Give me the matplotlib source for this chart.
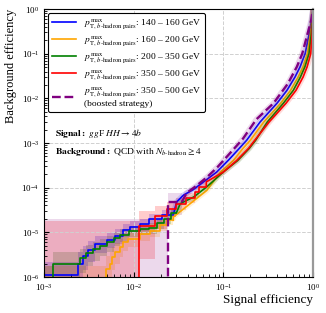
import matplotlib
matplotlib.use("Agg")
import matplotlib.pyplot as plt

plt.rcParams['font.family'] = ['Liberation Serif', 'DejaVu Serif']
plt.rcParams['mathtext.fontset'] = 'stix'

# --- data (signal eff, background eff) ---
# low-statistics part: step curves, band = per-step lower/upper bound
blue_step_x = [1.0e-3, 2.42e-3, 2.75e-3, 3.12e-3, 3.72e-3, 5.0e-3, 6.2e-3, 7.7e-3, 9.1e-3, 1.17e-2, 1.5e-2, 2.06e-2]
blue_step_y = [1.1e-6, 2.0e-6, 3.0e-6, 4.1e-6, 5.6e-6, 6.9e-6, 8.5e-6, 1.15e-5, 1.32e-5, 1.5e-5, 2.0e-5, 2.5e-5]
blue_band_lo = [1e-8, 8e-7, 1.4e-6, 2.2e-6, 3.4e-6, 4.4e-6, 5.6e-6, 8.0e-6, 9.5e-6, 1.1e-5, 1.5e-5, 1.9e-5]
blue_band_hi = [2.2e-6, 3.6e-6, 5.0e-6, 6.5e-6, 8.3e-6, 9.8e-6, 1.2e-5, 1.55e-5, 1.75e-5, 2.0e-5, 2.6e-5, 3.2e-5]
blue_x = [0.0277, 0.0302, 0.0359, 0.0464, 0.0603, 0.0845, 0.115, 0.151, 0.182, 0.257, 0.398, 0.513, 0.631, 0.72, 0.818, 0.908, 0.966, 1.0]
blue_y = [2.5e-5, 4.8e-5, 6.8e-5, 9.1e-5, 1.35e-4, 2.24e-4, 4.2e-4, 7.6e-4, 1.15e-3, 2.95e-3, 7.8e-3, 1.51e-2, 3.0e-2, 5.1e-2, 0.1, 0.282, 0.562, 1.0]

orange_step_x = [1e-3, 4.9e-3, 5.46e-3, 5.69e-3, 6.17e-3, 7.05e-3, 7.67e-3, 8.7e-3, 1.17e-2, 1.52e-2, 1.97e-2, 2.34e-2]
orange_step_y = [1e-7, 1.55e-6, 2.0e-6, 2.8e-6, 3.6e-6, 4.7e-6, 6.0e-6, 7.2e-6, 9.3e-6, 1.1e-5, 1.45e-5, 1.86e-5]
orange_band_lo = [1e-8, 4e-7, 8e-7, 1.4e-6, 2e-6, 2.8e-6, 3.8e-6, 4.8e-6, 6.5e-6, 8e-6, 1.1e-5, 1.45e-5]
orange_band_hi = [1.8e-6, 3e-6, 3.6e-6, 4.8e-6, 5.8e-6, 7.2e-6, 8.8e-6, 1.02e-5, 1.28e-5, 1.5e-5, 1.9e-5, 2.35e-5]
orange_x = [0.0277, 0.0277, 0.0427, 0.0655, 0.0933, 0.129, 0.166, 0.2, 0.282, 0.437, 0.562, 0.684, 0.776, 0.867, 0.938, 0.979, 1.0]
orange_y = [1.86e-5, 2.2e-5, 4.4e-5, 8.7e-5, 2.24e-4, 4.07e-4, 7.6e-4, 1.15e-3, 2.95e-3, 7.8e-3, 1.51e-2, 3.0e-2, 5.1e-2, 0.1, 0.282, 0.562, 1.0]

green_step_x = [1e-3, 1.27e-3, 2.51e-3, 2.95e-3, 3.55e-3, 4.17e-3, 5.0e-3, 6.0e-3, 7.1e-3, 8.9e-3, 1.17e-2, 1.5e-2, 1.82e-2, 2.19e-2, 2.63e-2]
green_step_y = [1e-7, 2.0e-6, 2.6e-6, 3.5e-6, 4.2e-6, 5.0e-6, 6.0e-6, 7.4e-6, 8.9e-6, 1.07e-5, 1.2e-5, 1.26e-5, 1.58e-5, 2.0e-5, 2.75e-5]
green_band_lo = [1e-8, 8e-7, 1.2e-6, 1.8e-6, 2.3e-6, 2.9e-6, 3.7e-6, 4.9e-6, 6.2e-6, 7.8e-6, 8.8e-6, 9.3e-6, 1.2e-5, 1.55e-5, 2.2e-5]
green_band_hi = [1.8e-6, 3.6e-6, 4.3e-6, 5.3e-6, 6.2e-6, 7.1e-6, 8.3e-6, 1.0e-5, 1.2e-5, 1.42e-5, 1.57e-5, 1.65e-5, 2.0e-5, 2.5e-5, 3.3e-5]
green_x = [0.030, 0.0331, 0.0468, 0.0655, 0.1, 0.145, 0.195, 0.229, 0.309, 0.468, 0.603, 0.724, 0.813, 0.902, 0.959, 0.986, 1.0]
green_y = [2.75e-5, 4.4e-5, 6.2e-5, 1.05e-4, 2.24e-4, 4.07e-4, 7.6e-4, 1.15e-3, 2.95e-3, 7.8e-3, 1.51e-2, 3.0e-2, 5.1e-2, 0.1, 0.282, 0.562, 1.0]

red_step_x = [1e-3, 0.0115, 0.0172, 0.0235, 0.0295, 0.0380, 0.0480, 0.0540]
red_step_y = [1e-7, 1.41e-5, 2.3e-5, 3.4e-5, 4.4e-5, 6.0e-5, 7.9e-5, 1.05e-4]
red_band_lo = [1e-8, 2.5e-6, 1.2e-5, 2.2e-5, 3.1e-5, 4.5e-5, 6.2e-5, 8.5e-5]
red_band_hi = [1.75e-5, 3.0e-5, 3.8e-5, 4.9e-5, 5.9e-5, 7.6e-5, 9.7e-5, 1.28e-4]
red_x = [0.0646, 0.0646, 0.1, 0.141, 0.191, 0.224, 0.324, 0.501, 0.646, 0.776, 0.861, 0.944, 0.982, 0.993, 1.0]
red_y = [1.05e-4, 1.35e-4, 2.24e-4, 4.07e-4, 7.6e-4, 1.15e-3, 2.95e-3, 7.8e-3, 1.51e-2, 3.0e-2, 5.1e-2, 0.1, 0.282, 0.562, 1.0]

boost_step_x = [1e-3, 0.0244]
boost_step_y = [1e-7, 4.8e-5]
boost_band_lo = [1e-8, 2.5e-5]
boost_band_hi = [1.95e-5, 7.5e-5]
boost_x = [0.0345, 0.0389, 0.0501, 0.0661, 0.0851, 0.11, 0.141, 0.166, 0.234, 0.363, 0.525, 0.661, 0.759, 0.871, 0.955, 1.0]
boost_y = [4.8e-5, 7.6e-5, 1.1e-4, 1.74e-4, 2.82e-4, 5.0e-4, 8.7e-4, 1.26e-3, 3.4e-3, 7.8e-3, 2.14e-2, 5.1e-2, 0.1, 0.282, 0.562, 1.0]

pt_ranges = ['140 – 160', '160 – 200', '200 – 350', '350 – 500', '350 – 500']
colors = ['blue', 'orange', 'green', 'red', 'purple']

series = [
    (blue_step_x, blue_step_y, blue_band_lo, blue_band_hi, blue_x, blue_y),
    (orange_step_x, orange_step_y, orange_band_lo, orange_band_hi, orange_x, orange_y),
    (green_step_x, green_step_y, green_band_lo, green_band_hi, green_x, green_y),
    (red_step_x, red_step_y, red_band_lo, red_band_hi, red_x, red_y),
    (boost_step_x, boost_step_y, boost_band_lo, boost_band_hi, boost_x, boost_y),
]

fig = plt.figure(figsize=(3.26, 3.13), dpi=100)
ax = fig.add_axes([0.135, 0.115, 0.825, 0.856])

pt_label = r'$p^{\max}_{\mathrm{T},\,b\text{-}\mathrm{hadron\ pairs}}$'
for i, (sx, sy, blo, bhi, cx, cy) in enumerate(series):
    c = colors[i]
    ls = '--' if i == 4 else '-'
    lw = 1.7 if i == 4 else 1.2
    # uncertainty bands on the stepped part
    ax.fill_between(sx + [cx[0]], blo + [blo[-1]], bhi + [bhi[-1]],
                    step='post', color=c, alpha=0.15 if i == 4 else 0.2, lw=0)
    ax.plot(cx, cy, color=c, lw=4, alpha=0.15, solid_capstyle='butt')
    label = pt_label + ': ' + pt_ranges[i] + ' GeV'
    if i == 4:
        label += '\n(boosted strategy)'
    ax.step(sx + [cx[0]], sy + [sy[-1]], where='post', color=c, lw=lw, ls=ls)
    ax.plot(cx, cy, color=c, lw=lw, ls=ls, label=label)

ax.set_xscale('log')
ax.set_yscale('log')
ax.set_xlim(1e-3, 1)
ax.set_ylim(1e-6, 1)
ax.grid(True, which='major', ls='--', color='#d0d0d0', lw=0.7)
ax.tick_params(which='both', direction='in', labelsize=6.5)
ax.tick_params(which='major', length=3.5)
ax.tick_params(which='minor', length=2)
ax.spines['right'].set_color('#999999')
ax.spines['right'].set_linewidth(1.6)

ax.set_xlabel('Signal efficiency', fontsize=9.5, loc='right', labelpad=1)
ax.set_ylabel('Background efficiency', fontsize=9, loc='top', labelpad=3)

leg = ax.legend(loc='upper left', fontsize=6.8, frameon=True, edgecolor='black',
                framealpha=1, handlelength=2.6, borderaxespad=0.4, labelspacing=0.35)
leg.get_frame().set_linewidth(0.8)

ax.text(0.04, 0.537, r'$\mathbf{Signal:}$ $gg$F $HH \rightarrow 4b$',
        transform=ax.transAxes, fontsize=6.8, va='center')
ax.text(0.04, 0.466, r'$\mathbf{Background:}$ QCD with $N_{b\text{-}\mathrm{hadron}} \geq 4$',
        transform=ax.transAxes, fontsize=6.8, va='center')

fig.savefig('out.png', dpi=100)
